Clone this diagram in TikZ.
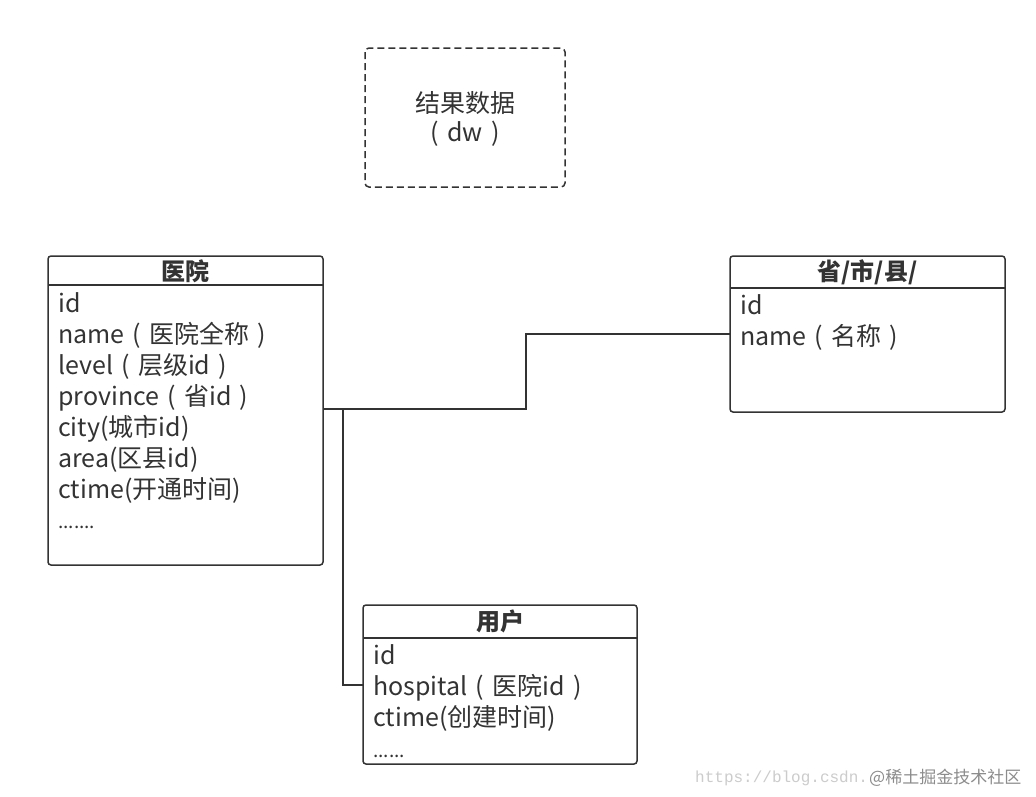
\documentclass[tikz,border=0pt]{standalone}
\usepackage{fontspec}
\setmainfont{Noto Sans CJK SC}
\newfontfamily\wmfont{Liberation Mono}
\definecolor{ink}{HTML}{333333}
\newcommand\lpar{\kern0.33em(\kern0.33em}
\newcommand\rpar{\kern0.33em)\kern0.33em}
\tikzset{
  box/.style={draw=ink, line width=1.5pt, rounded corners=3pt},
  dbox/.style={draw=ink, line width=1.5pt, rounded corners=4pt, dash pattern=on 7pt off 4pt},
  field/.style={anchor=base west, inner sep=0pt, text=ink, font=\fontsize{25}{28}\selectfont},
  dots/.style={anchor=base west, inner sep=0pt, text=ink, font=\fontsize{19}{22}\selectfont},
  head/.style={anchor=center, inner sep=0pt, text=ink, font=\fontsize{24}{28}\selectfont\bfseries},
  wire/.style={draw=ink, line width=1.5pt},
}
\begin{document}
\begin{tikzpicture}[x=1pt,y=-1pt]
\useasboundingbox[fill=white] (0,0) rectangle (1036,796);

% dashed box
\draw[dbox] (365,48) rectangle (565,187);
\node[inner sep=0pt, text=ink, font=\fontsize{25}{28}\selectfont] (dw1) at (465,103) {结果数据};
\node[inner sep=0pt, text=ink, font=\fontsize{25}{28}\selectfont] (dw2) at (465,134) {\lpar dw\rpar};

% hospital
\draw[box] (48,256) rectangle (323,565);
\draw[wire] (48,285) -- (323,285);
\node[head] (hh) at (185.5,271) {医院};
\node[field] (h1) at (58,312) {id};
\node[field] (h2) at (58,343) {name\lpar 医院全称\rpar};
\node[field] (h3) at (58,374) {level\lpar 层级id\rpar};
\node[field] (h4) at (58,405) {province\lpar 省id\rpar};
\node[field] (h5) at (58,436) {city(城市id)};
\node[field] (h6) at (58,467) {area(区县id)};
\node[field] (h7) at (58,498) {ctime(开通时间)};
\node[dots] (h8) at (58,528) {.......};
\coordinate (hosp) at (323,409);

% region
\draw[box] (730,256) rectangle (1005,412);
\draw[wire] (730,288) -- (1005,288);
\node[head] (rh) at (867.5,272) {省/市/县/};
\node[field] (r1) at (740,314) {id};
\node[field] (r2) at (740,345) {name\lpar 名称\rpar};
\coordinate (reg) at (730,334);

% user
\draw[box] (363,605) rectangle (637,764);
\draw[wire] (363,638) -- (637,638);
\node[head] (uh) at (500,621) {用户};
\node[field] (u1) at (373,664) {id};
\node[field] (u2) at (373,695) {hospital\lpar 医院id\rpar};
\node[field] (u3) at (373,726) {ctime(创建时间)};
\node[dots] (u4) at (373,757) {......};
\coordinate (usr) at (363,685);

% connectors
\draw[wire] (hosp) -- (526,409) -- (526,334) -- (reg);
\draw[wire] (343,409) -- (343,685) -- (usr);

% watermark
\node[anchor=base west, inner sep=0pt, text=black!20, font=\wmfont\fontsize{16}{18}\selectfont] (wm1) at (695,782) {https://blog.csdn.};
\node[anchor=base west, inner sep=0pt, text=black!45, font=\fontsize{17}{18}\selectfont] (wm2) at (869,783) {@稀土掘金技术社区};
\end{tikzpicture}
\end{document}
